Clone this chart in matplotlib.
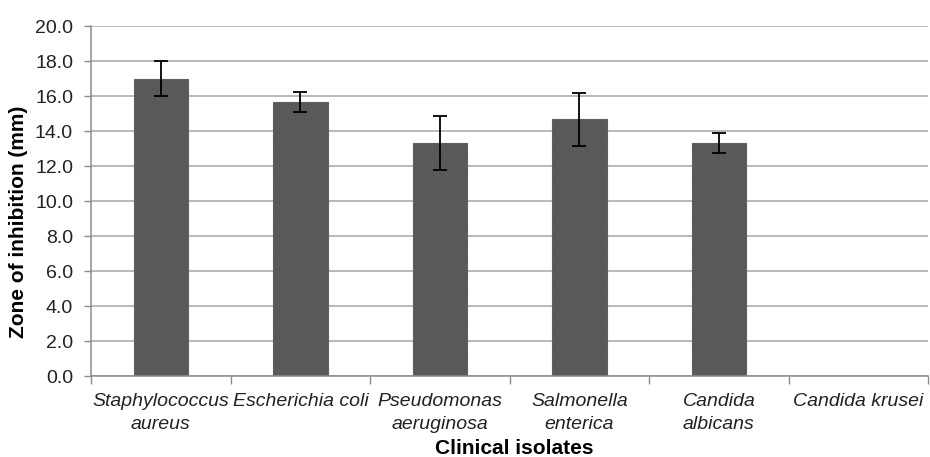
import numpy as np
import matplotlib.pyplot as plt
from matplotlib.ticker import FixedLocator, NullFormatter

plt.rcParams['font.family'] = ['Liberation Sans', 'DejaVu Sans']

isolates = ["Staphylococcus\naureus", "Escherichia coli", "Pseudomonas\naeruginosa",
            "Salmonella\nenterica", "Candida\nalbicans", "Candida krusei"]
zone = [17.0, 15.67, 13.33, 14.67, 13.33, 0.0]
sd = [1.0, 0.58, 1.53, 1.53, 0.58, 0.0]
yticks = np.arange(0, 20.1, 2.0)

fig = plt.figure(figsize=(9.3, 4.57), dpi=100)
ax = fig.add_axes([0.098, 0.177, 0.9, 0.766])

x = np.arange(len(isolates))
has_bar = np.array(zone) > 0
plt.rcParams['hatch.color'] = '#6e6e6e'
plt.rcParams['hatch.linewidth'] = 0.5
ax.bar(x[has_bar], np.array(zone)[has_bar], width=0.39, color='#595959',
       edgecolor='#5f5f5f', hatch='..', linewidth=0.8, zorder=2)
ax.errorbar(x[has_bar], np.array(zone)[has_bar], yerr=np.array(sd)[has_bar],
            fmt='none', ecolor='black', elinewidth=1.3, capsize=5, capthick=1.3, zorder=3)

ax.set_xlim(-0.5, len(isolates) - 0.5)
ax.set_ylim(0, 20)
ax.set_yticks(yticks)
ax.set_yticklabels([f"{v:.1f}" for v in yticks], fontsize=14, color='#222222')
ax.yaxis.grid(True, color='#a6a6a6', linewidth=1.1, zorder=0)
ax.set_axisbelow(True)

ax.set_xticks(x)
ax.set_xticklabels(isolates, fontsize=14, style='italic', color='#222222')
for lbl in ax.get_xticklabels():
    lbl.set_linespacing(1.45)
ax.tick_params(axis='x', which='major', length=0, pad=12)
ax.xaxis.set_minor_locator(FixedLocator(np.arange(-0.5, len(isolates), 1.0)))
ax.xaxis.set_minor_formatter(NullFormatter())
ax.tick_params(axis='x', which='minor', length=6, color='#8c8c8c', width=1)
ax.tick_params(axis='y', length=5, color='#8c8c8c', width=1, pad=8)

for side in ['top', 'right']:
    ax.spines[side].set_visible(False)
ax.spines['left'].set_color('#8c8c8c')
ax.spines['bottom'].set_color('#8c8c8c')
ax.spines['left'].set_linewidth(1.1)
ax.spines['bottom'].set_linewidth(1.1)

ax.set_ylabel("Zone of inhibition (mm)", fontsize=15, fontweight='bold')
ax.yaxis.set_label_coords(-0.076, 0.44)
ax.set_xlabel("Clinical isolates", fontsize=15, fontweight='bold')
ax.xaxis.set_label_coords(0.505, -0.18)

fig.savefig("out.png", dpi=100)
